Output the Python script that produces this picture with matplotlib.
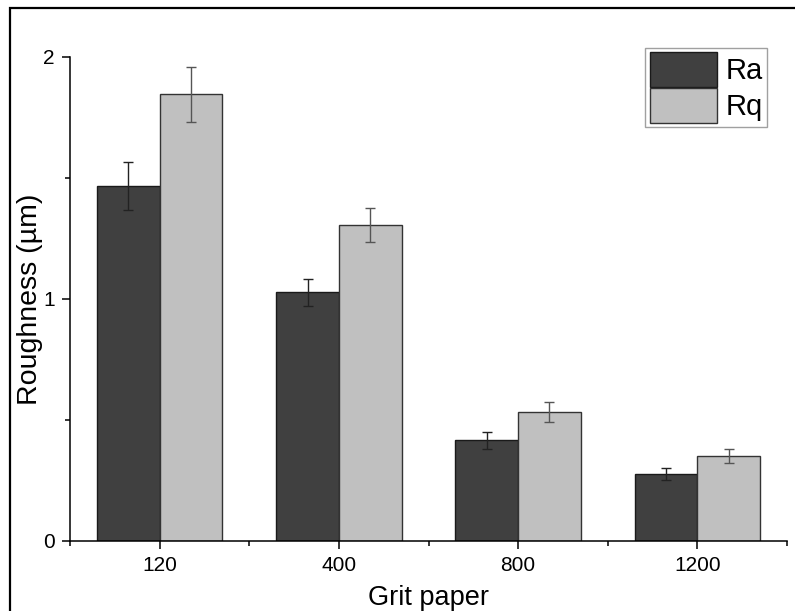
import matplotlib.pyplot as plt
from matplotlib.patches import Rectangle
from matplotlib.ticker import MultipleLocator
import numpy as np

plt.rcParams['font.family'] = ['Liberation Sans', 'DejaVu Sans']

# data
grits = ['120', '400', '800', '1200']
ra = [1.467, 1.027, 0.417, 0.277]
ra_err = [0.100, 0.057, 0.035, 0.026]
rq = [1.846, 1.307, 0.533, 0.351]
rq_err = [0.113, 0.070, 0.042, 0.028]

fig = plt.figure(figsize=(7.95, 6.11), dpi=100)
ax = fig.add_axes([70/795, 1-541/611, 717/795, 484/611])

# border around the figure (only top and left visible in the original)
fig.patches.append(Rectangle((10/795, -0.1), 1.2, 1 - 8/611 + 0.1, transform=fig.transFigure,
                             fill=False, edgecolor='black', linewidth=1.6))

x = np.arange(len(grits))
w = 0.35
ax.bar(x - w/2, ra, w, color='#404040', edgecolor='#1a1a1a', linewidth=1.0, label='Ra',
       yerr=ra_err, error_kw=dict(ecolor='#222222', elinewidth=1.0, capsize=3.4, capthick=1.0))
ax.bar(x + w/2, rq, w, color='#c0c0c0', edgecolor='#333333', linewidth=1.0, label='Rq',
       yerr=rq_err, error_kw=dict(ecolor='#555555', elinewidth=1.0, capsize=3.4, capthick=1.0))

ax.set_xlim(-0.5, 3.5)
ax.set_ylim(0, 2)
ax.set_xticks(x)
ax.set_xticklabels(grits)
ax.set_xticks([-0.5, 0.5, 1.5, 2.5, 3.5], minor=True)
ax.yaxis.set_major_locator(MultipleLocator(1))
ax.yaxis.set_minor_locator(MultipleLocator(0.5))

for s in ['top', 'right']:
    ax.spines[s].set_visible(False)
for s in ['left', 'bottom']:
    ax.spines[s].set_linewidth(1.1)

ax.tick_params(which='major', direction='out', length=6, width=1.1, labelsize=15, pad=5)
ax.tick_params(which='minor', direction='out', length=3.5, width=1.1)

ax.set_xlabel('Grit paper', fontsize=19.5, labelpad=7)
ax.set_ylabel('Roughness (µm)', fontsize=20.5, labelpad=0)

leg = ax.legend(loc='upper right', bbox_to_anchor=(767/795, 1-48/611), bbox_transform=fig.transFigure,
                borderaxespad=0, fancybox=False, fontsize=21, handlelength=2.3, handleheight=1.45,
                handletextpad=0.3, borderpad=0.15, labelspacing=0.05)
leg.get_frame().set_edgecolor('#888888')
leg.get_frame().set_linewidth(1.0)

fig.savefig('out.png', dpi=100)
